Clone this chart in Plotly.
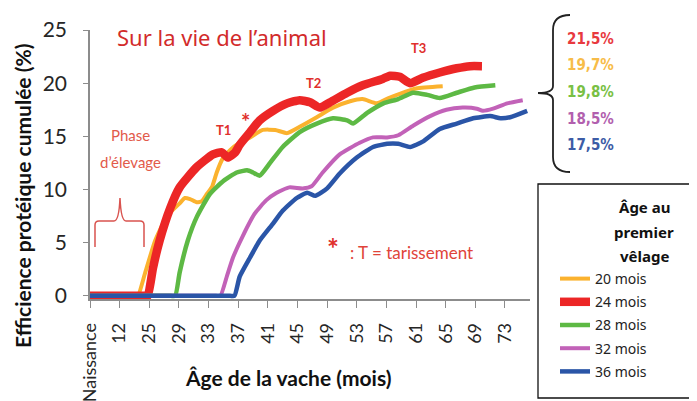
import numpy as np
import plotly.graph_objects as go

# ---------------- data ----------------
tick_labels = ["Naissance", "12", "25", "29", "33", "37", "41", "45", "49",
               "53", "57", "61", "65", "69", "73"]
tick_months = [0, 12, 25, 29, 33, 37, 41, 45, 49, 53, 57, 61, 65, 69, 73]

series_names = ["20 mois", "24 mois", "28 mois", "32 mois", "36 mois"]

m20 = [0, 19.5, 20.1, 23.1, 25.8, 27.4, 29.1, 29.8, 30.5, 31.4, 32.1, 32.8, 33.5, 34.1, 34.9,
       35.9, 37.2, 38.6, 40.3, 42.0, 43.6, 45.3, 47.6, 49.8, 52.1, 53.8, 55.7, 57.3,
       58.8, 61.0, 64.6]
v20 = [0, 0, 0, 2.1, 5.2, 7.5, 8.7, 9.2, 9.1, 8.8, 8.9, 9.6, 10.3, 11.6, 12.9,
       13.7, 14.4, 14.9, 15.6, 15.6, 15.3, 15.9, 16.8, 17.7, 18.3, 18.5, 18.1, 18.6,
       19.0, 19.5, 19.7]

m24 = [0, 23.8, 24.4, 25.5, 26.4, 27.8, 29.1, 31.4, 33.6, 34.8, 35.6, 36.6, 37.2, 38.6, 39.9,
       41.7, 43.6, 45.3, 46.7, 48.0, 49.4, 51.7, 53.8, 56.5, 57.5, 58.8, 60.2, 61.9,
       64.2, 66.5, 68.3, 69.9]
v24 = [0, 0, 0, 2.6, 5.2, 8.2, 10.2, 12.1, 13.3, 13.5, 13.0, 13.5, 14.2, 15.4, 16.5,
       17.4, 18.1, 18.4, 18.2, 17.7, 18.2, 19.1, 19.8, 20.4, 20.7, 20.6, 20.0, 20.5,
       21.0, 21.4, 21.6, 21.6]

m28 = [0, 27.9, 28.5, 29.1, 30.2, 31.4, 33.2, 35.0, 36.8, 38.2, 39.0, 39.9, 41.3, 43.0, 45.3,
       47.6, 49.8, 51.7, 52.5, 54.4, 56.6, 58.6, 60.6, 62.5, 64.2, 66.5, 68.9, 71.7]
v28 = [0, 0, 0, 2.2, 5.2, 7.4, 9.6, 10.8, 11.6, 11.8, 11.6, 11.3, 12.5, 14.0, 15.4,
       16.2, 16.7, 16.5, 16.2, 17.2, 18.1, 18.5, 19.1, 18.9, 18.6, 19.1, 19.6, 19.8]

m32 = [0, 34.0, 34.6, 35.5, 36.3, 37.6, 39.2, 40.8, 42.2, 43.9, 45.7, 46.9, 48.4, 50.7, 53.4,
       55.2, 57.1, 58.6, 60.6, 62.9, 65.1, 67.3, 69.2, 70.0, 71.4, 73.3, 75.4]
v32 = [0, 0, 0, 1.9, 3.6, 5.6, 7.7, 9.0, 9.7, 10.2, 10.1, 10.3, 11.6, 13.3, 14.4,
       14.9, 14.9, 15.1, 16.0, 16.9, 17.5, 17.7, 17.6, 17.4, 17.6, 18.1, 18.4]

m36 = [0, 35.9, 36.5, 37.2, 38.6, 39.9, 41.7, 43.0, 44.9, 46.3, 47.4, 49.0, 50.7, 53.0, 55.2,
       57.1, 58.6, 60.2, 61.9, 64.2, 66.5, 68.7, 71.0, 72.4, 73.7, 76.0]
v36 = [0, 0, 0, 1.8, 3.6, 5.2, 6.8, 8.0, 9.2, 9.7, 9.4, 10.1, 11.5, 13.0, 14.0,
       14.3, 14.3, 14.0, 14.5, 15.7, 16.2, 16.7, 16.9, 16.7, 16.8, 17.4]

final_labels = ["21,5%", "19,7%", "19,8%", "18,5%", "17,5%"]
legend_title_lines = ["\u00c2ge au", "premier", "v\u00ealage"]

# ---------------- styling ----------------
colors = ["#FBB22E", "#EC2626", "#5DB944", "#C262B8", "#2A55A7"]
widths = [4, 8.5, 4.5, 4, 4.5]
label_colors = ["#E8393E", "#F7BC48", "#79C044", "#B25FAE", "#3C5CA6"]

OFF = 8  # page body margin
W, H = 697, 401
ML, MT = 90 - OFF, 30 - OFF
MR, MB = W - (530 - OFF), H - (299 - OFF)
PW, PH = W - ML - MR, H - MT - MB


def px(x):  # screen pixel -> paper x
    return (x - OFF - ML) / PW


def py(y):  # screen pixel -> paper y
    return (H - MB - (y - OFF)) / PH


def month_to_pos(m):
    """Axis scale: Naissance..12..25 then one tick every 4 months."""
    m = np.asarray(m, dtype=float)
    return np.where(m >= 25, 2 + (m - 25) / 4.0, np.interp(m, [0, 12, 25], [0, 1, 2]))


fig = go.Figure()
all_m = [m20, m24, m28, m32, m36]
all_v = [v20, v24, v28, v32, v36]
for i, name in enumerate(series_names):
    fig.add_trace(go.Scatter(
        x=month_to_pos(all_m[i]), y=all_v[i], mode="lines", name=name,
        legendgroup=name,
        line=dict(color=colors[i], width=widths[i], shape="spline", smoothing=0.5),
        hoverinfo="skip"))

red = "#E0302C"
annotations = [
    dict(text="Sur la vie de l\u2019animal", x=px(222), y=py(37), font=dict(size=22, color="#D22B2B", family="Noto Sans")),
    dict(text="Phase", x=px(130), y=py(135), font=dict(size=15, color="#E25A4A", family="Lato")),
    dict(text="d\u2019\u00e9levage", x=px(130), y=py(162), font=dict(size=15, color="#E25A4A", family="Lato")),
    dict(text="<b>T1</b>", x=px(223), y=py(130), font=dict(size=13, color=red, family="Lato")),
    dict(text="<b>*</b>", x=px(245), y=py(121), font=dict(size=22, color=red, family="Lato")),
    dict(text="<b>T2</b>", x=px(313), y=py(83), font=dict(size=13, color=red, family="Lato")),
    dict(text="<b>T3</b>", x=px(418), y=py(48), font=dict(size=13, color=red, family="Lato")),
    dict(text="<b>*</b>", x=px(333), y=py(248), font=dict(size=28, color=red, family="Lato")),
    dict(text=": T = tarissement", x=px(348), y=py(252), xanchor="left", font=dict(size=17, color="#E0443A", family="Lato")),
    dict(text="\u00c2ge de la vache (mois)", x=px(288), y=py(377), font=dict(size=21, color="#111111", family="Lato", weight="bold")),
    dict(text="Efficience prot\u00e9ique cumul\u00e9e (%)", x=px(22), y=py(196), textangle=-90, font=dict(size=21, color="#111111", family="Lato", weight="bold")),
]
for line, yy in zip(legend_title_lines, [207, 232, 256]):
    annotations.append(dict(text=f"<b>{line}</b>", x=px(644), y=py(yy),
                            font=dict(size=15, color="#111111", family="Noto Sans")))
for lab, col, yy in zip(final_labels, label_colors, [38.5, 65, 91.5, 118.5, 145]):
    annotations.append(dict(text=f"<b>{lab}</b>", x=px(590), y=py(yy),
                            font=dict(size=15, color=col, family="Liberation Sans Narrow, DejaVu Sans Condensed, sans-serif")))
for a in annotations:
    a.setdefault("xref", "paper")
    a.setdefault("yref", "paper")
    a.setdefault("showarrow", False)
    a.setdefault("xanchor", "center")
    a.setdefault("yanchor", "middle")
    a.setdefault("align", "center")


def make_path(segments):
    out = []
    for cmd, pts in segments:
        out.append(cmd + " " + " ".join(f"{px(x):.5f},{py(y):.5f}" for x, y in pts))
    return " ".join(out)


# red brace over the rearing phase
brace_red = make_path([
    ("M", [(95, 247)]), ("L", [(95, 225)]), ("Q", [(95, 221), (99, 221)]),
    ("L", [(114, 221)]), ("Q", [(119, 221), (120, 198)]), ("Q", [(121, 221), (126, 221)]),
    ("L", [(140, 221)]), ("Q", [(144, 221), (144, 225)]), ("L", [(144, 247)]),
])
# black brace grouping final values
brace_blk = make_path([
    ("M", [(570, 15)]), ("Q", [(553, 15), (553, 30)]), ("L", [(553, 86)]),
    ("Q", [(553, 93), (538, 93)]), ("Q", [(553, 93), (553, 100)]), ("L", [(553, 157)]),
    ("Q", [(553, 172), (570, 172)]),
])

shapes = [
    dict(type="path", path=brace_red, xref="paper", yref="paper", line=dict(color="#D9534F", width=1.5)),
    dict(type="path", path=brace_blk, xref="paper", yref="paper", line=dict(color="#222222", width=1.8)),
    dict(type="rect", xref="paper", yref="paper", x0=px(538), x1=px(715), y0=py(398), y1=py(184),
         line=dict(color="#111111", width=1.3)),
]

fig.update_layout(
    width=W, height=H,
    margin=dict(l=ML, r=MR, t=MT, b=MB, autoexpand=False),
    paper_bgcolor="white", plot_bgcolor="white",
    showlegend=True,
    legend=dict(x=px(555), y=py(263), xanchor="left", yanchor="top",
                bgcolor="rgba(0,0,0,0)", borderwidth=0, tracegroupgap=2,
                font=dict(size=14, color="#222222", family="Noto Sans")),
    xaxis=dict(range=[0, 14.845], tickmode="array", tickvals=month_to_pos(tick_months),
               ticktext=tick_labels, tickangle=-90, showgrid=False, zeroline=False,
               showline=True, linecolor="#8C8C8C", linewidth=1.5, ticks="outside",
               ticklen=7, tickcolor="#8C8C8C", ticklabelstandoff=8,
               tickfont=dict(size=18, color="#262626", family="Lato")),
    yaxis=dict(range=[-0.3, 25], tickvals=[0, 5, 10, 15, 20, 25], showgrid=False,
               zeroline=False, showline=True, linecolor="#8C8C8C", linewidth=1.5,
               ticks="outside", ticklen=5, tickcolor="#8C8C8C", ticklabelstandoff=12,
               tickfont=dict(size=21, color="#262626", family="Lato")),
    annotations=annotations,
    shapes=shapes,
)

fig.write_html("out.html")
